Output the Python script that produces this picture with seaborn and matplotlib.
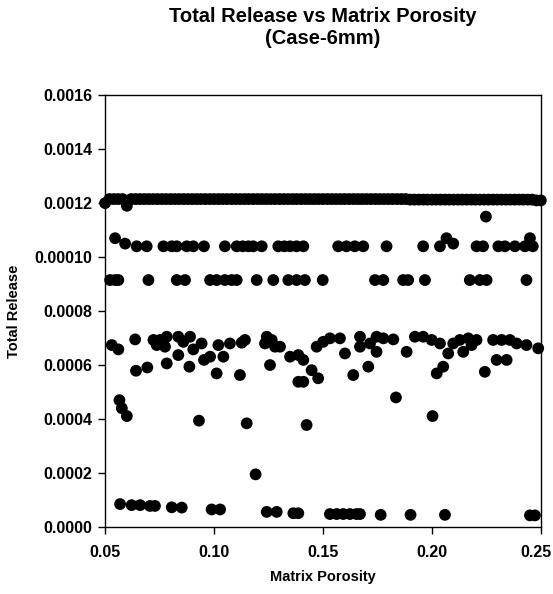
import matplotlib
matplotlib.use("Agg")
import matplotlib.pyplot as plt
import matplotlib.transforms as mtransforms
import seaborn as sns
import pandas as pd
from matplotlib.ticker import FixedLocator, FixedFormatter

# ---- data ----
top_x = [0.050, 0.052, 0.054, 0.056, 0.058, 0.060, 0.062, 0.064, 0.066, 0.068,
         0.070, 0.072, 0.074, 0.076, 0.078, 0.080, 0.082, 0.084, 0.086, 0.088,
         0.090, 0.092, 0.094, 0.096, 0.098, 0.100, 0.102, 0.104, 0.106, 0.108,
         0.110, 0.112, 0.114, 0.116, 0.118, 0.120, 0.122, 0.124, 0.126, 0.128,
         0.130, 0.132, 0.134, 0.136, 0.138, 0.140, 0.142, 0.144, 0.146, 0.148,
         0.150, 0.152, 0.154, 0.156, 0.158, 0.160, 0.162, 0.164, 0.166, 0.168,
         0.170, 0.172, 0.174, 0.176, 0.178, 0.180, 0.182, 0.184, 0.186, 0.188,
         0.190, 0.192, 0.194, 0.196, 0.198, 0.200, 0.202, 0.204, 0.206, 0.208,
         0.210, 0.212, 0.214, 0.216, 0.218, 0.220, 0.222, 0.224, 0.226, 0.228,
         0.230, 0.232, 0.234, 0.236, 0.238, 0.240, 0.242, 0.244, 0.246, 0.248,
         0.250]
top_y = [0.00120, 0.001215, 0.001215, 0.001215, 0.001215, 0.00119, 0.001215, 0.001215, 0.001215, 0.001215,
         0.001215, 0.001215, 0.001215, 0.001215, 0.001215, 0.001215, 0.001215, 0.001215, 0.001215, 0.001215,
         0.001215, 0.001215, 0.001215, 0.001215, 0.001215, 0.001215, 0.001215, 0.001215, 0.001215, 0.001215,
         0.001215, 0.001215, 0.001215, 0.001215, 0.001215, 0.001215, 0.001215, 0.001215, 0.001215, 0.001215,
         0.001215, 0.001215, 0.001215, 0.001215, 0.001215, 0.001215, 0.001215, 0.001215, 0.001215, 0.001215,
         0.001215, 0.001215, 0.001215, 0.001215, 0.001215, 0.001215, 0.001215, 0.001215, 0.001215, 0.001215,
         0.001215, 0.001215, 0.001215, 0.001215, 0.001215, 0.001215, 0.001215, 0.001215, 0.001215, 0.001215,
         0.001213, 0.001213, 0.001213, 0.001213, 0.001213, 0.001213, 0.001213, 0.001213, 0.001213, 0.001213,
         0.001213, 0.001213, 0.001213, 0.001213, 0.001213, 0.001213, 0.001213, 0.001213, 0.001213, 0.001213,
         0.001213, 0.001213, 0.001213, 0.001213, 0.001213, 0.001213, 0.001213, 0.001213, 0.001213, 0.001210,
         0.001210]

band2_x = [0.0546, 0.0592, 0.0645, 0.0691, 0.0768, 0.0806, 0.0829, 0.0875, 0.0905, 0.0954,
           0.1050, 0.1104, 0.1132, 0.1158, 0.1180, 0.1219, 0.1295, 0.1323, 0.1349, 0.1379,
           0.1410, 0.1570, 0.1608, 0.1646, 0.1685, 0.1792, 0.1960, 0.2037, 0.2067, 0.2098,
           0.2205, 0.2235, 0.2305, 0.2335, 0.2381, 0.2427, 0.2450, 0.2463, 0.2248]
band2_y = [0.00107, 0.00105, 0.00104, 0.00104, 0.00104, 0.00104, 0.00104, 0.00104, 0.00104, 0.00104,
           0.00104, 0.00104, 0.00104, 0.00104, 0.00104, 0.00104, 0.00104, 0.00104, 0.00104, 0.00104,
           0.00104, 0.00104, 0.00104, 0.00104, 0.00104, 0.00104, 0.00104, 0.00104, 0.00107, 0.00105,
           0.00104, 0.00104, 0.00104, 0.00104, 0.00104, 0.00104, 0.00107, 0.00104, 0.00115]

band3_x = [0.0523, 0.0546, 0.0561, 0.0699, 0.0829, 0.0867, 0.0982, 0.1012, 0.1050, 0.1081,
           0.1104, 0.1196, 0.1272, 0.1341, 0.1379, 0.1417, 0.1499, 0.1739, 0.1777, 0.1868,
           0.1891, 0.1968, 0.2174, 0.2220, 0.2251, 0.2434]
band3_y = [0.000915] * len(band3_x)

band4_x = [0.0531, 0.0561, 0.0638, 0.0642, 0.0694, 0.0722, 0.0737, 0.0752, 0.0775, 0.0783,
           0.0783, 0.0836, 0.0836, 0.0859, 0.0890, 0.0887, 0.0905, 0.0943, 0.0954, 0.0982,
           0.1012, 0.1020, 0.1043, 0.1073, 0.1119, 0.1127, 0.1142, 0.1234, 0.1242, 0.1257,
           0.1265, 0.1280, 0.1303, 0.1349, 0.1387, 0.1387, 0.1410, 0.1410, 0.1448, 0.1471,
           0.1478, 0.1501, 0.1532, 0.1578, 0.1601, 0.1639, 0.1670, 0.1670, 0.1708, 0.1716,
           0.1746, 0.1746, 0.1777, 0.1823, 0.1884, 0.1922, 0.1960, 0.1999, 0.2022, 0.2037,
           0.2052, 0.2075, 0.2098, 0.2128, 0.2144, 0.2167, 0.2182, 0.2205, 0.2243, 0.2281,
           0.2297, 0.2320, 0.2343, 0.2358, 0.2389, 0.2434, 0.2488]
band4_y = [0.000674, 0.000658, 0.000695, 0.000579, 0.000591, 0.000693, 0.000674, 0.000693, 0.000668, 0.000705,
           0.000606, 0.000705, 0.000637, 0.000686, 0.000705, 0.000594, 0.000658, 0.000680, 0.000619, 0.000631,
           0.000569, 0.000674, 0.000631, 0.000680, 0.000563, 0.000683, 0.000693, 0.000680, 0.000705, 0.000600,
           0.000693, 0.000668, 0.000668, 0.000631, 0.000637, 0.000538, 0.000619, 0.000538, 0.000581, 0.000668,
           0.000551, 0.000686, 0.000699, 0.000699, 0.000643, 0.000563, 0.000705, 0.000668, 0.000594, 0.000680,
           0.000705, 0.000649, 0.000699, 0.000695, 0.000649, 0.000705, 0.000705, 0.000693, 0.000569, 0.000680,
           0.000594, 0.000643, 0.000680, 0.000693, 0.000649, 0.000699, 0.000674, 0.000693, 0.000575, 0.000693,
           0.000619, 0.000693, 0.000619, 0.000693, 0.000680, 0.000674, 0.000662]

mid_x = [0.0566, 0.0577, 0.0600, 0.0931, 0.1150, 0.1191, 0.1425, 0.1835, 0.2003]
mid_y = [0.000470, 0.000440, 0.000411, 0.000394, 0.000384, 0.000195, 0.000378, 0.000480, 0.000411]

low_x = [0.0569, 0.0622, 0.0661, 0.0706, 0.0729, 0.0806, 0.0852, 0.0989, 0.1028, 0.1242,
         0.1288, 0.1364, 0.1387, 0.1532, 0.1563, 0.1593, 0.1624, 0.1654, 0.1670, 0.1765,
         0.1902, 0.2060, 0.2450, 0.2473]
low_y = [0.000085, 0.000081, 0.000081, 0.000078, 0.000078, 0.000073, 0.000072, 0.000065, 0.000065, 0.000056,
         0.000056, 0.000051, 0.000051, 0.000048, 0.000048, 0.000048, 0.000048, 0.000048, 0.000048, 0.000045,
         0.000045, 0.000045, 0.000043, 0.000043]

y_ticks = [0.0000, 0.0002, 0.0004, 0.0006, 0.0008, 0.0010, 0.0012, 0.0014, 0.0016]
y_tick_labels = ["0.0000", "0.0002", "0.0004", "0.0006", "0.0008", "0.00010", "0.0012", "0.0014", "0.0016"]
x_ticks = [0.05, 0.10, 0.15, 0.20, 0.25]
x_tick_labels = ["0.05", "0.10", "0.15", "0.20", "0.25"]

df = pd.DataFrame({
    "Matrix Porosity": top_x + band2_x + band3_x + band4_x + mid_x + low_x,
    "Total Release": top_y + band2_y + band3_y + band4_y + mid_y + low_y,
})

# ---- plotting ----
sns.set_style("ticks")
plt.rcParams['font.family'] = ['Liberation Sans', 'DejaVu Sans']
plt.rcParams.update({"text.color": "black", "axes.labelcolor": "black",
                     "xtick.color": "black", "ytick.color": "black",
                     "axes.edgecolor": "black"})

fig = plt.figure(figsize=(5.53, 5.94), dpi=100)
ax = fig.add_axes([0.190, 0.1128, 0.788, 0.727])

sns.scatterplot(data=df, x="Matrix Porosity", y="Total Release", ax=ax,
                color="black", edgecolor="none", s=72, legend=False, zorder=3,
                clip_on=False)

ax.set_xlim(0.05, 0.25)
ax.set_ylim(0.0, 0.0016)
ax.xaxis.set_major_locator(FixedLocator(x_ticks))
ax.xaxis.set_major_formatter(FixedFormatter(x_tick_labels))
ax.yaxis.set_major_locator(FixedLocator(y_ticks))
ax.yaxis.set_major_formatter(FixedFormatter(y_tick_labels))
ax.tick_params(axis="both", direction="out", length=5, width=1, color="black",
               labelsize=11.5, pad=4, labelcolor="black")
ax.tick_params(axis="x", pad=8)
for lab in ax.get_xticklabels() + ax.get_yticklabels():
    lab.set_fontweight("bold")
# keep the last x label inside the canvas
last = ax.get_xticklabels()[-1]
last.set_transform(last.get_transform() +
                   mtransforms.ScaledTranslation(-5 / 100, 0, fig.dpi_scale_trans))
for sp in ax.spines.values():
    sp.set_visible(True)
    sp.set_color("black")
    sp.set_linewidth(1.0)

ax.set_xlabel("Matrix Porosity", fontsize=10.5, fontweight="bold", labelpad=7)
ax.set_ylabel("Total Release", fontsize=10.5, fontweight="bold", labelpad=10)

fig.text(0.584, 0.988, "Total Release vs Matrix Porosity\n(Case-6mm)",
         ha="center", va="top", fontsize=14.5, fontweight="bold", linespacing=1.2,
         color="black")

fig.savefig("out.png", dpi=100, facecolor="white")
